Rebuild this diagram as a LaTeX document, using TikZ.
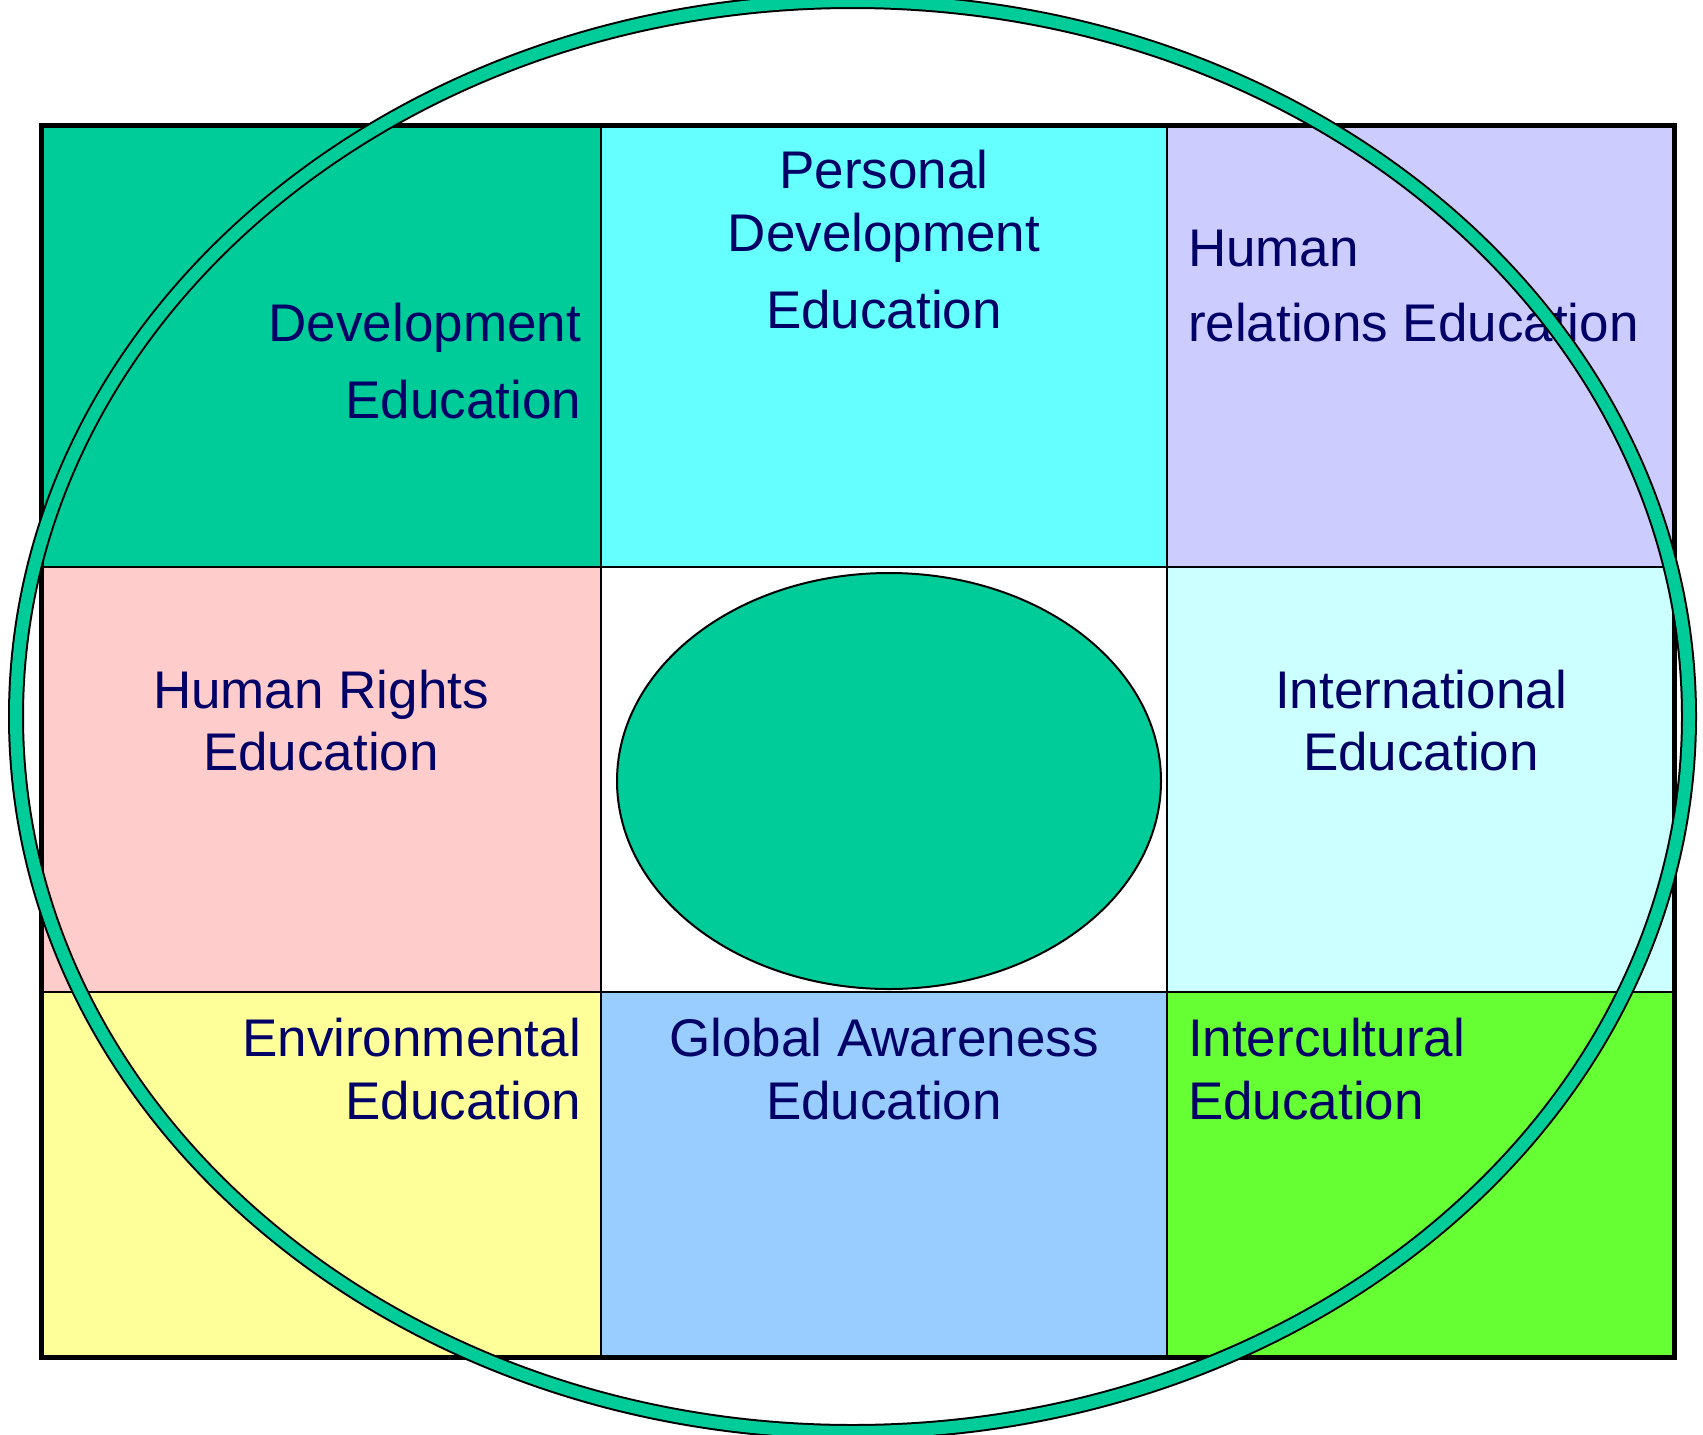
\documentclass[tikz,border=0pt]{standalone}
\usepackage{fontspec}
\setmainfont{Liberation Sans}
\usetikzlibrary{shapes.geometric}
\definecolor{tealg}{HTML}{00CC99}
\definecolor{cyanc}{HTML}{66FFFF}
\definecolor{lavc}{HTML}{CCCCFF}
\definecolor{pinkc}{HTML}{FFCCCC}
\definecolor{lcyanc}{HTML}{CCFFFF}
\definecolor{yelc}{HTML}{FFFF99}
\definecolor{bluec}{HTML}{99CCFF}
\definecolor{limec}{HTML}{66FF33}
\definecolor{navytxt}{HTML}{000066}
\newcommand\cellbox[6]{%
  \node[cellshape, fill=#6, minimum width={(#4-#2)*1pt}, minimum height={(#5-#3)*1pt}]
    (#1) at ({(#2+#4)/2},{(#3+#5)/2}) {};}
\begin{document}
\begin{tikzpicture}[x=1pt,y=-1pt,
  cellshape/.style={draw=black, line width=2.5pt, inner sep=0pt, outer sep=0pt, rectangle},
  lbl/.style={text=navytxt, font=\fontsize{53}{60}\selectfont, inner sep=0pt, outer sep=0pt},
  ringshape/.style={ellipse, draw=black, line width=2pt, double=tealg, double distance=12pt, inner sep=0pt, outer sep=0pt},
  hubshape/.style={ellipse, draw=black, line width=2pt, fill=tealg, inner sep=0pt, outer sep=0pt}]
\useasboundingbox (0,0) rectangle (1703,1435);
\fill[white] (0,0) rectangle (1703,1435);
% cells
\cellbox{tl}{41}{125}{601}{567}{tealg}
\cellbox{tc}{601}{125}{1167}{567}{cyanc}
\cellbox{tr}{1167}{125}{1674}{567}{lavc}
\cellbox{ml}{41}{567}{601}{992}{pinkc}
\cellbox{mc}{601}{567}{1167}{992}{white}
\cellbox{mr}{1167}{567}{1674}{992}{lcyanc}
\cellbox{bl}{41}{992}{601}{1357}{yelc}
\cellbox{bc}{601}{992}{1167}{1357}{bluec}
\cellbox{br}{1167}{992}{1674}{1357}{limec}
% outer frame
\node[draw=black, line width=5pt, inner sep=0pt, outer sep=0pt, minimum width=1633pt, minimum height=1232pt] (frame) at (857.5,741) {};
% central ellipse
\node[hubshape, minimum width=544pt, minimum height=416pt] (hub) at (889,781) {};
% labels
\node[lbl, anchor=base east] (tla) at (581,341) {Development};
\node[lbl, anchor=base east] (tlb) at (581,418) {Education};
\node[lbl, anchor=base] (tca) at (884,188) {Personal};
\node[lbl, anchor=base] (tcb) at (884,251) {Development};
\node[lbl, anchor=base] (tcc) at (884,328) {Education};
\node[lbl, anchor=base west] (tra) at (1188,266) {Human};
\node[lbl, anchor=base west] (trb) at (1188,341) {relations Education};
\node[lbl, anchor=base] (mla) at (321,708) {Human Rights};
\node[lbl, anchor=base] (mlb) at (321,770) {Education};
\node[lbl, anchor=base] (mra) at (1421,708) {International};
\node[lbl, anchor=base] (mrb) at (1421,770) {Education};
\node[lbl, anchor=base east] (bla) at (581,1056) {Environmental};
\node[lbl, anchor=base east] (blb) at (581,1119) {Education};
\node[lbl, anchor=base] (bca) at (884,1056) {Global Awareness};
\node[lbl, anchor=base] (bcb) at (884,1119) {Education};
\node[lbl, anchor=base west] (bra) at (1188,1056) {Intercultural};
\node[lbl, anchor=base west] (brb) at (1188,1119) {Education};
% ring
\node[ringshape, minimum width=1673pt, minimum height=1431pt] (ring) at (852.5,716.5) {};
\end{tikzpicture}
\end{document}
